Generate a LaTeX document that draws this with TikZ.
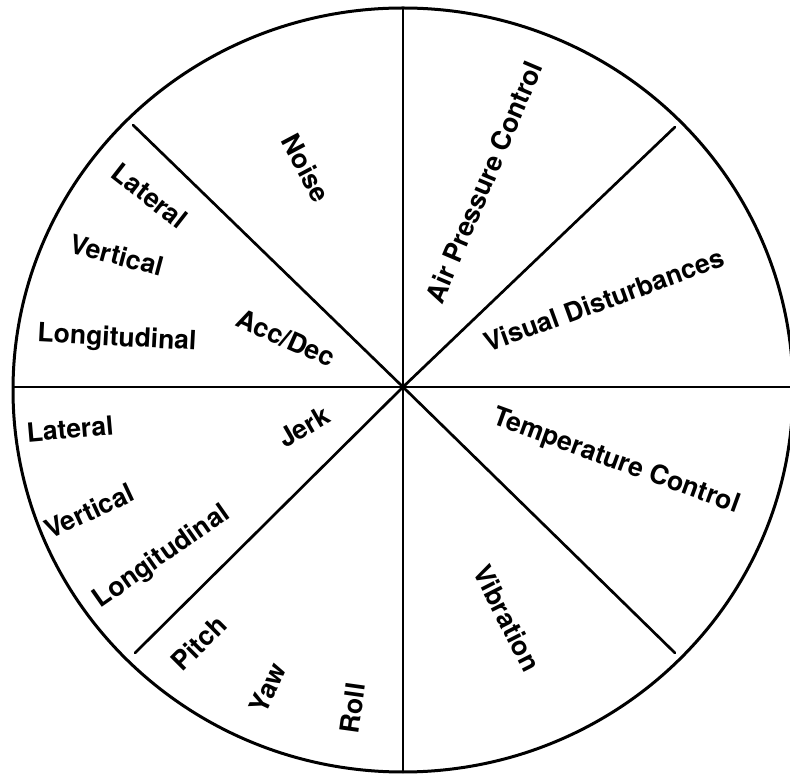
\documentclass[tikz,border=0pt]{standalone}
\usepackage{fontspec}
\setmainfont{TeX Gyre Heros}
\usepackage{tikz}

\tikzset{
    lbl/.style={font=\fontsize{26.5}{30}\selectfont\bfseries, inner sep=0pt},
    spoke/.style={line width=2.7pt}
}

\begin{document}
\begin{tikzpicture}[x=1pt, y=1pt]
    \useasboundingbox (0,0) rectangle (790,774);
    \begin{scope} % Wheel and spokes
        \coordinate (c) at (403,387);
        \draw[line width=3pt] (403,384) ellipse (390 and 382);
        \coordinate (w) at (13,387);
        \coordinate (e) at (793,387);
        \coordinate (n) at (403,765);
        \coordinate (s) at (403,2);
        \coordinate (nw) at (133,649);
        \coordinate (ne) at (675,647);
        \coordinate (sw) at (135,121);
        \coordinate (se) at (675,121);
        \draw[spoke] (w) -- (e);
        \draw[spoke] (n) -- (s);
        \foreach \p in {nw,ne,sw,se}
            \draw[spoke, line cap=round] (c) -- (\p);
    \end{scope}
    \begin{scope} % Upper left sectors
        \node[lbl, rotate=-62] (noise) at (306,606) {Noise};
        \node[lbl, rotate=-38] (latA) at (150,578) {Lateral};
        \node[lbl, rotate=-15] (vertA) at (117,519) {Vertical};
        \node[lbl, rotate=-3] (longA) at (117,435) {Longitudinal};
        \node[lbl, rotate=-24] (acc) at (286,436) {Acc/Dec};
    \end{scope}
    \begin{scope} % Right sectors
        \node[lbl, rotate=67] (air) at (484,592) {Air Pressure Control};
        \node[lbl, rotate=20] (visual) at (604,474) {Visual Disturbances};
        \node[lbl, rotate=-20] (temp) at (616,312) {Temperature Control};
        \node[lbl, rotate=-63] (vib) at (507,156) {Vibration};
    \end{scope}
    \begin{scope} % Lower left sectors
        \node[lbl, rotate=5] (latB) at (70,345) {Lateral};
        \node[lbl, rotate=30] (jerk) at (304,347) {Jerk};
        \node[lbl, rotate=25] (vertB) at (89,263) {Vertical};
        \node[lbl, rotate=35] (longB) at (162,217) {Longitudinal};
        \node[lbl, rotate=45] (pitch) at (199,131) {Pitch};
        \node[lbl, rotate=65] (yaw) at (268,86) {Yaw};
        \node[lbl, rotate=82] (roll) at (353,66) {Roll};
    \end{scope}
\end{tikzpicture}
\end{document}
